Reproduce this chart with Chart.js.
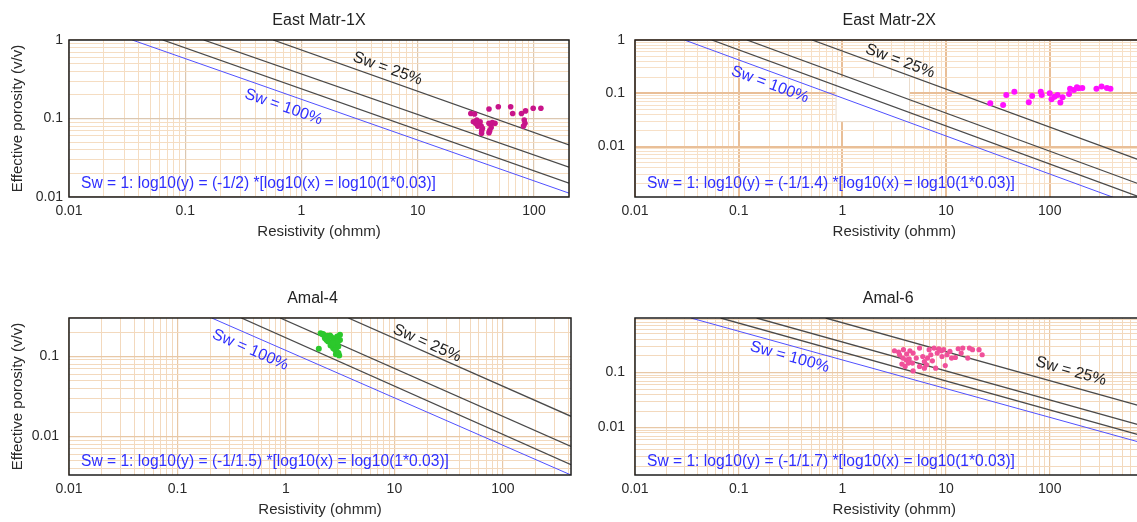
<!DOCTYPE html>
<html lang="en">
<head>
<meta charset="UTF-8">
<title>Pickett plots</title>
<script src="https://cdn.jsdelivr.net/npm/chart.js@4.4.1/dist/chart.umd.min.js"></script>
<style>
  html, body { margin: 0; padding: 0; background: #fff; overflow: hidden; width: 1137px; height: 522px; }
  canvas { position: absolute; }
</style>
</head>
<body>
<canvas id="c1" width="575" height="245" style="left:0;top:0"></canvas>
<canvas id="c2" width="600" height="245" style="left:575px;top:0"></canvas>
<canvas id="c3" width="575" height="245" style="left:0;top:278px"></canvas>
<canvas id="c4" width="600" height="245" style="left:575px;top:278px"></canvas>
<script>
Chart.defaults.font.family = '"Liberation Sans", Arial, sans-serif';
Chart.defaults.color = '#2a2a2a';

const panelTitles = ['East Matr-1X', 'East Matr-2X', 'Amal-4', 'Amal-6'];
const cementationM = ['2', '1.4', '1.5', '1.7'];
const swLevels = ['100%', '75%', '50%', '25%'];
const resRange = [[0.01, 200], [0.01, 1000], [0.01, 425], [0.01, 1000]];
const phiRange = [[0.01, 1], [0.00113, 1], [0.0033, 0.3], [0.00138, 0.975]];

// East Matr-1X
const matr1Res = [28.6, 30.8, 41, 49.3, 63, 65.5, 78, 84.6, 98.4, 114.6, 30.1, 32.2, 33.2, 34.4, 35.1, 36, 35.5, 31.5, 32.8,
  41, 43.8, 46.2, 42.8, 41.6, 82.4, 83.6, 81.3, 35.4, 41];
const matr1Phi = [0.116, 0.114, 0.132, 0.141, 0.141, 0.116, 0.116, 0.125, 0.135, 0.135, 0.091, 0.0957, 0.087, 0.091, 0.08, 0.075, 0.07, 0.087, 0.08,
  0.087, 0.0885, 0.087, 0.077, 0.07, 0.0957, 0.087, 0.08, 0.065, 0.066];
// Sw lines 100%, 75%, 50%, 25%: [Rt start, phi start, Rt end, phi end]
const matr1Lines = [[0.035, 1, 200, 0.0112], [0.064, 1, 200, 0.015], [0.144, 1, 200, 0.024], [0.57, 1, 200, 0.046]];
const matr1LabelAt = [[0.7, 0.14], [5.5, 0.43]];

// East Matr-2X
const matr2Res = [26.7, 35.5, 38.1, 45.6, 62.8, 67.6, 81.9, 83.7, 100, 104, 111, 119, 126.6, 133, 153.5, 171, 190,
  157, 183, 206, 282, 316, 356, 385];
const matr2Phi = [0.065, 0.06, 0.093, 0.107, 0.068, 0.089, 0.107, 0.093, 0.1, 0.077, 0.086, 0.093, 0.067, 0.084, 0.097, 0.115, 0.124,
  0.121, 0.13, 0.125, 0.121, 0.134, 0.125, 0.121];
const matr2Lines = [[0.03, 1, 1000, 0.000589], [0.055, 1, 1000, 0.000908], [0.12, 1, 1000, 0.00158], [0.51, 1, 1000, 0.00446]];
const matr2LabelAt = [[0.2, 0.146], [3.6, 0.4]];

// Amal-4
const amal4Res = [2.09, 2.21, 2.34, 2.55, 2.73, 2.97, 3.15, 2.45, 2.64, 2.83, 3.04, 2.73, 2.93, 3.1, 2.89, 2.01, 2.37, 3.15, 2.58, 2.29,
  2.2, 2.4, 2.6, 2.8, 3.0, 2.7, 2.85, 3.05];
const amal4Phi = [0.194, 0.185, 0.171, 0.182, 0.168, 0.176, 0.16, 0.153, 0.146, 0.139, 0.132, 0.126, 0.115, 0.102, 0.106, 0.124, 0.16, 0.185, 0.136, 0.168,
  0.19, 0.18, 0.175, 0.155, 0.15, 0.145, 0.12, 0.11];
const amal4Lines = [[0.207, 0.3, 425, 0.0033], [0.388, 0.3, 425, 0.00444], [0.885, 0.3, 425, 0.0075], [3.76, 0.3, 425, 0.0178]];
const amal4LabelAt = [[0.47, 0.12], [20, 0.145]];

// Amal-6
const amal6Res = [3.18, 3.49, 3.88, 4.17, 4.48, 4.81, 3.83, 4.11, 4.41, 3.75, 4.03, 4.81, 5.55, 5.96, 6.18, 6.49, 6.63, 7.13, 7.38, 7.94,
  8.22, 8.51, 9.02, 9.48, 9.82, 10.2, 10.9, 12.3, 13.1, 14.5, 16.2, 16.8, 18, 20.8, 22.3, 4.74, 5.16, 5.55, 6.18, 6.87, 11.3, 14,
  3.56, 4.33, 9.14, 7.66];
const amal6Phi = [0.248, 0.235, 0.259, 0.216, 0.248, 0.225, 0.183, 0.17, 0.177, 0.142, 0.129, 0.107, 0.278, 0.195, 0.158, 0.138, 0.183, 0.21, 0.163, 0.12,
  0.225, 0.27, 0.248, 0.259, 0.134, 0.21, 0.241, 0.187, 0.27, 0.278, 0.183, 0.278, 0.259, 0.259, 0.21, 0.148, 0.183, 0.129, 0.12, 0.259, 0.183, 0.225,
  0.21, 0.148, 0.195, 0.278];
const amal6Lines = [[0.0346, 0.975, 1000, 0.00463], [0.067, 0.975, 1000, 0.00627], [0.149, 0.975, 1000, 0.0095], [0.69, 0.975, 1000, 0.0213]];
const amal6LabelAt = [[0.31, 0.19], [160, 0.105]];

// white patch left in the East Matr-2X picture
const matr2Patch = [0.86, 0.202, 4.39, 0.03];

const FONT = '"Liberation Sans", Arial, sans-serif';

function isDecade(v) {
  const l = Math.log10(v);
  return Math.abs(l - Math.round(l)) < 1e-6;
}
function decadeLabel(v) {
  return isDecade(v) ? String(Number(Number(v).toPrecision(1))) : '';
}
function logTicks(scale) {
  const lo = Math.floor(Math.log10(scale.min) + 1e-9), hi = Math.ceil(Math.log10(scale.max));
  const ticks = [];
  for (let e = lo; e <= hi; e++) {
    for (let s = 1; s < 10; s++) {
      const v = s * Math.pow(10, e);
      if (v >= scale.min * 0.999 && v <= scale.max * 1.001) ticks.push({ value: v, major: s === 1 });
    }
  }
  scale.ticks = ticks;
}

const decor = {
  id: 'decor',
  beforeDatasetsDraw(chart, args, o) {
    if (!o.patch) return;
    const ctx = chart.ctx, sx = chart.scales.x, sy = chart.scales.y;
    const L = sx.getPixelForValue(o.patch[0]), T = sy.getPixelForValue(o.patch[1]);
    const R = sx.getPixelForValue(o.patch[2]), B = sy.getPixelForValue(o.patch[3]);
    ctx.save();
    ctx.fillStyle = '#fff';
    ctx.fillRect(L, T, R - L, B - T);
    ctx.strokeStyle = '#eadccd';
    ctx.lineWidth = 1;
    ctx.strokeRect(L + 0.5, T + 0.5, R - L, B - T);
    ctx.restore();
  },
  afterDatasetsDraw(chart, args, o) {
    const ctx = chart.ctx, sx = chart.scales.x, sy = chart.scales.y, a = chart.chartArea;
    o.labels.forEach(l => {
      const d = chart.data.datasets[l.line].data;
      const ang = Math.atan2(sy.getPixelForValue(d[1].y) - sy.getPixelForValue(d[0].y),
                             sx.getPixelForValue(d[1].x) - sx.getPixelForValue(d[0].x));
      ctx.save();
      ctx.translate(sx.getPixelForValue(l.x), sy.getPixelForValue(l.y));
      ctx.rotate(ang);
      ctx.font = '16px ' + FONT;
      ctx.fillStyle = l.color;
      ctx.textAlign = 'center';
      ctx.textBaseline = 'middle';
      ctx.fillText(l.text, 0, 0);
      ctx.restore();
    });
    ctx.save();
    ctx.font = '15.6px ' + FONT;
    ctx.fillStyle = '#2f2fff';
    ctx.textAlign = 'left';
    ctx.textBaseline = 'middle';
    ctx.fillText(o.formula, a.left + 12, a.bottom - 13.5);
    ctx.restore();
  },
  afterDraw(chart, args, o) {
    const ctx = chart.ctx, a = chart.chartArea;
    ctx.save();
    ctx.strokeStyle = '#1e1e1e';
    ctx.lineWidth = 1.5;
    ctx.strokeRect(a.left, a.top, a.right - a.left, a.bottom - a.top);
    ctx.font = '16px ' + FONT;
    ctx.fillStyle = '#222';
    ctx.textAlign = 'center';
    ctx.textBaseline = 'middle';
    ctx.fillText(o.title, (a.left + a.right) / 2 + o.titleShift, a.top - 19.5);
    ctx.restore();
  }
};

function makePanel(i, p) {
  const datasets = [{
    data: p.res.map((x, k) => ({ x: x, y: p.phi[k] })),
    showLine: false,
    pointRadius: p.dot,
    pointBackgroundColor: p.color,
    pointBorderWidth: 0
  }];
  p.lines.forEach((l, k) => datasets.push({
    data: [{ x: l[0], y: l[1] }, { x: l[2], y: l[3] }],
    showLine: true,
    pointRadius: 0,
    borderColor: k === 0 ? '#5050ff' : '#4a4a4a',
    borderWidth: k === 0 ? 1 : 1.3
  }));
  const grid = {
    drawTicks: false,
    color: ctx => (ctx.tick && isDecade(ctx.tick.value)) ? p.major : p.minor,
    lineWidth: ctx => (ctx.tick && isDecade(ctx.tick.value)) ? p.majorWidth : 1
  };
  return new Chart(document.getElementById(p.id), {
    type: 'scatter',
    data: { datasets: datasets },
    options: {
      responsive: false,
      animation: false,
      events: [],
      layout: { padding: { top: 40, right: p.padRight, left: 0, bottom: 0 } },
      plugins: {
        legend: { display: false },
        tooltip: { enabled: false },
        decor: {
          title: panelTitles[i],
          titleShift: p.titleShift,
          formula: 'Sw = 1: log10(y) = (-1/' + cementationM[i] + ') *[log10(x) = log10(1*0.03)]',
          patch: p.patch || null,
          labels: [
            { text: 'Sw = ' + swLevels[0], x: p.labelAt[0][0], y: p.labelAt[0][1], line: 1, color: '#2f2fff' },
            { text: 'Sw = ' + swLevels[3], x: p.labelAt[1][0], y: p.labelAt[1][1], line: 4, color: '#222' }
          ]
        }
      },
      scales: {
        x: {
          type: 'logarithmic',
          min: resRange[i][0], max: resRange[i][1],
          afterBuildTicks: logTicks,
          afterFit: s => { s.height = 48; },
          ticks: { callback: decadeLabel, autoSkip: false, maxRotation: 0, minRotation: 0, padding: 6, font: { size: 14 } },
          grid: grid,
          border: { display: false },
          title: { display: true, text: 'Resistivity (ohmm)', font: { size: 15 }, padding: { top: 0, bottom: 4 } }
        },
        y: {
          type: 'logarithmic',
          min: phiRange[i][0], max: phiRange[i][1],
          afterBuildTicks: logTicks,
          afterFit: s => { s.width = p.yWidth; },
          ticks: { callback: decadeLabel, autoSkip: false, padding: p.yPad, font: { size: 14 } },
          grid: grid,
          border: { display: false },
          title: { display: p.yTitle, text: 'Effective porosity (v/v)', font: { size: 15 }, padding: { top: 9, bottom: 0 } }
        }
      }
    },
    plugins: [decor]
  });
}

makePanel(0, { id: 'c1', res: matr1Res, phi: matr1Phi, lines: matr1Lines, labelAt: matr1LabelAt, color: '#c8148a', dot: 2.8,
  yWidth: 69, yPad: 6, yTitle: true, padRight: 4, titleShift: 0, major: '#dcc7b0', minor: '#f5ddc2', majorWidth: 1.2 });
makePanel(1, { id: 'c2', res: matr2Res, phi: matr2Phi, lines: matr2Lines, labelAt: matr2LabelAt, color: '#ff10ff', dot: 3,
  yWidth: 60, yPad: 10, yTitle: false, padRight: 2.5, titleShift: -5, major: '#e9bf98', minor: '#f7e0c7', majorWidth: 2, patch: matr2Patch });
makePanel(2, { id: 'c3', res: amal4Res, phi: amal4Phi, lines: amal4Lines, labelAt: amal4LabelAt, color: '#2cc82c', dot: 3,
  yWidth: 69, yPad: 10, yTitle: true, padRight: 4, titleShift: -7.5, major: '#e8c8a6', minor: '#f3d9bd', majorWidth: 1.2 });
makePanel(3, { id: 'c4', res: amal6Res, phi: amal6Phi, lines: amal6Lines, labelAt: amal6LabelAt, color: '#f0509a', dot: 2.6,
  yWidth: 60, yPad: 10, yTitle: false, padRight: 2.5, titleShift: -6, major: '#e8c8a6', minor: '#f3d9bd', majorWidth: 1.2 });
</script>
</body>
</html>
